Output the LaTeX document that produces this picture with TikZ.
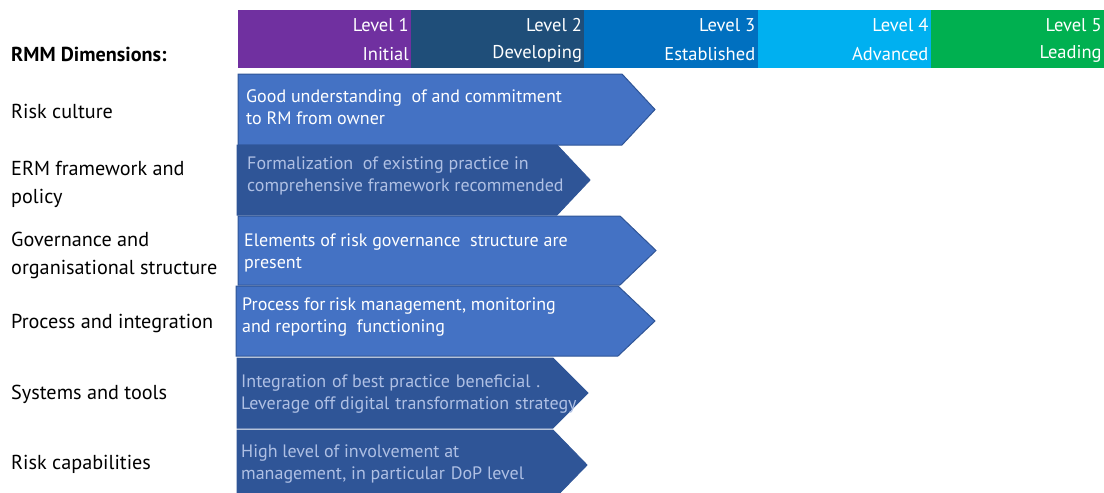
\documentclass[tikz,border=0pt]{standalone}
\usepackage{fontspec}
\setmainfont{PT Sans}
\definecolor{lvlone}{HTML}{7030A0}
\definecolor{lvltwo}{HTML}{1F4E79}
\definecolor{lvlthree}{HTML}{0070C0}
\definecolor{lvlfour}{HTML}{00B0F0}
\definecolor{lvlfive}{HTML}{00B050}
\definecolor{lightarrow}{HTML}{4472C4}
\definecolor{darkarrow}{HTML}{2F5597}
\definecolor{paletext}{HTML}{AFC0E4}
\tikzset{
  lvltext/.style={anchor=east,text=white,font=\fontsize{18.5}{20}\selectfont,inner sep=0pt},
  dimtext/.style={anchor=west,align=left,font=\fontsize{20.2}{28}\selectfont,inner sep=0pt},
  light/.style={fill=lightarrow,draw=darkarrow,line width=1pt},
  dark/.style={fill=darkarrow,draw=darkarrow,line width=1pt},
  lighttext/.style={anchor=west,align=left,text=white,font=\fontsize{18}{22}\selectfont,inner sep=0pt},
  darktext/.style={anchor=west,align=left,text=paletext,font=\fontsize{18}{22}\selectfont,inner sep=0pt}
}
\begin{document}
\begin{tikzpicture}[x=1pt,y=-1pt]
	\useasboundingbox (0,0) rectangle (1104,493);
	\clip (0,0) rectangle (1104,493);
	% level header
	\foreach \n/\name/\col [count=\i from 0] in {1/Initial/lvlone,2/Developing/lvltwo,3/Established/lvlthree,4/Advanced/lvlfour,5/Leading/lvlfive}{
		\fill[\col] (238+\i*173.2,10) rectangle ++(173.2,58);
		\node[lvltext] (lvl\n) at (238+\i*173.2+171,25) {Level \n};
		\node[lvltext] (name\n) at (238+\i*173.2+171,54) {\name};
	}
	% dimensions
	\node[dimtext,font=\fontsize{20.2}{28}\selectfont\bfseries] (dims) at (11,54) {RMM Dimensions:};
	\node[dimtext] (culture) at (11,111) {Risk culture};
	\node[dimtext] (erm) at (11,184) {ERM framework and\\policy};
	\node[dimtext] (gov) at (11,255) {Governance and\\organisational structure};
	\node[dimtext] (proc) at (11,323) {Process and integration};
	\node[dimtext] (sys) at (11,394) {Systems and tools};
	\node[dimtext] (cap) at (11,464) {Risk capabilities};
	% assessed level per dimension
	\foreach \x/\t/\b/\s/\p/\st/\tx/\ty/\txt [count=\k] in {
		238/74/145/622/655/light/246/107/{Good understanding\ \ of and commitment\\to RM from owner},
		237/145/215/557/590/dark/247/176/{Formalization\ \ of existing practice in\\comprehensive framework recommended},
		238/216/285/620/656/light/244/253/{Elements of risk governance\ \ structure are\\present},
		236/286/356/618/655/light/242/317/{Process for\kern3.5pt{}risk management, monitoring\\and reporting\ \ functioning},
		237/358/428/553/588/dark/241/394/{Integration\ \kern1pt of best practice\ \kern1pt beneficial\ \kern1pt .\\Leverage off digital\ \kern1pt transformation\ \kern1pt strategy},
		237/430/500/553/587/dark/241/464/{High level of involvement at\\management, in particular\ \kern1pt DoP level}}{
		\draw[\st] (\x,\t) -- (\s,\t) -- (\p,{(\t+\b)/2}) -- (\s,\b) -- (\x,\b) -- cycle;
		\node[\st text] (row\k) at (\tx,\ty) {\txt};
	}
\end{tikzpicture}
\end{document}
